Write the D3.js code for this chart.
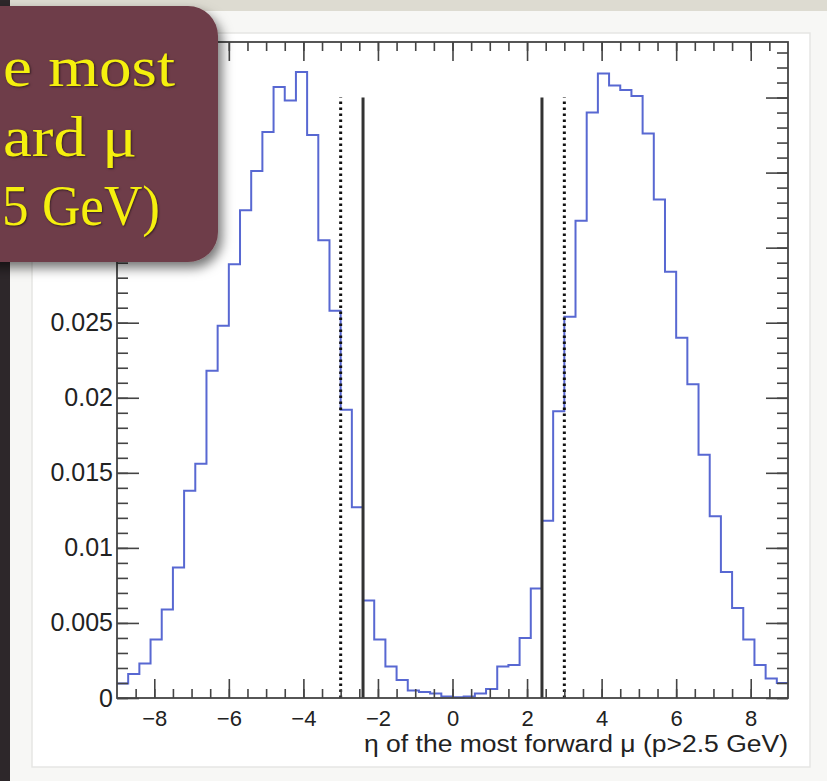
<!DOCTYPE html>
<html>
<head>
<meta charset="utf-8">
<script src="https://cdn.jsdelivr.net/npm/d3@7.9.0/dist/d3.min.js"></script>
<style>
  body { margin: 0; background: #f7f7f5; }
  svg { display: block; }
  .tick text { font-family: "Liberation Sans", Arial, Helvetica, sans-serif; fill: #222; }
</style>
</head>
<body>
<svg id="chart" width="827" height="781"></svg>
<script>
// histogram: 60 bins of width 0.3 between -9 and 9
const binLow = -9;
const binWidth = 0.3;
const binValues = [
  0.00096, 0.0016, 0.0023, 0.0039, 0.0059, 0.0087, 0.0138, 0.0156, 0.0218, 0.0248,
  0.0289, 0.0325, 0.0351, 0.0377, 0.0407, 0.0398, 0.0417, 0.0375, 0.0305, 0.0258,
  0.0192, 0.0127, 0.0065, 0.0039, 0.0021, 0.0012, 0.0005, 0.0004, 0.0003, 0.0001,
  0.00005, 0.0001, 0.0003, 0.0006, 0.0021, 0.0022, 0.0040, 0.0073, 0.0118, 0.0191,
  0.0254, 0.0318, 0.0390, 0.0416, 0.0408, 0.0405, 0.0401, 0.0376, 0.0332, 0.0284,
  0.0240, 0.0209, 0.0162, 0.0121, 0.0084, 0.0060, 0.0039, 0.0022, 0.0013, 0.0010
];

const xDomain = [-9, 9];
const yDomain = [0, 0.0437];
const xTickValues = [-8, -6, -4, -2, 0, 2, 4, 6, 8];
const yTickValues = [0, 0.005, 0.01, 0.015, 0.02, 0.025, 0.03, 0.035, 0.04];
// the top three labels sit under the callout box on the slide
const yTickLabels = ['0', '0.005', '0.01', '0.015', '0.02', '0.025', '', '', ''];

// acceptance cuts
const solidCuts = [-2.4, 2.4];
const dottedCuts = [-3, 3];
const cutHeight = 0.04;

const xTitle = 'η of the most forward μ (p>2.5 GeV)';
// only the right part of the callout is on the slide
const boxLines = ['e most', 'ard μ', '5 GeV)'];

const svg = d3.select('#chart');

// slide background
svg.append('rect').attr('x', 32).attr('y', 33).attr('width', 778).attr('height', 734)
  .attr('fill', '#fff').attr('stroke', '#e6e6e4').attr('stroke-width', 1.5);
svg.append('rect').attr('x', 0).attr('y', 0).attr('width', 827).attr('height', 11)
  .attr('fill', '#dddbd1');
svg.append('rect').attr('x', 0).attr('y', 0).attr('width', 10).attr('height', 781)
  .attr('fill', '#2d272a');

const x = d3.scaleLinear().domain(xDomain).range([117, 788]);
const y = d3.scaleLinear().domain(yDomain).range([698, 42]);

// frame
svg.append('rect')
  .attr('x', x(xDomain[0])).attr('y', y(yDomain[1]))
  .attr('width', x(xDomain[1]) - x(xDomain[0]))
  .attr('height', y(yDomain[0]) - y(yDomain[1]))
  .attr('fill', '#fff');

// histogram steps
const bins = binValues.map((v, i) => ({
  x0: +(binLow + i * binWidth).toFixed(2),
  x1: +(binLow + (i + 1) * binWidth).toFixed(2),
  v: v
}));
let pathD = '';
bins.forEach((b, i) => {
  pathD += (i === 0 ? 'M' : 'L') + x(b.x0) + ',' + y(b.v) + 'L' + x(b.x1) + ',' + y(b.v);
});
svg.append('path')
  .attr('d', pathD)
  .attr('fill', 'none')
  .attr('stroke', '#5868d2')
  .attr('stroke-width', 2);

// cut lines
svg.selectAll('.cut-solid')
  .data(solidCuts)
  .join('line')
  .attr('class', 'cut-solid')
  .attr('x1', d => x(d)).attr('x2', d => x(d))
  .attr('y1', y(0)).attr('y2', y(cutHeight))
  .attr('stroke', '#333').attr('stroke-width', 3);

svg.selectAll('.cut-dotted')
  .data(dottedCuts)
  .join('line')
  .attr('class', 'cut-dotted')
  .attr('x1', d => x(d)).attr('x2', d => x(d))
  .attr('y1', y(0)).attr('y2', y(cutHeight))
  .attr('stroke', '#111').attr('stroke-width', 3)
  .attr('stroke-dasharray', '2.5,3.5');

// axes, ticks pointing inward like ROOT
const xMinor = d3.range(-17, 18).map(d => d / 2);
const yMinor = d3.range(0, 44).map(d => d / 1000);

function styleAxis(g) {
  g.select('.domain').remove();
  g.selectAll('.tick line').attr('stroke', '#444').attr('stroke-width', 1.6);
}

svg.append('g').attr('transform', `translate(0,${y(0)})`)
  .call(d3.axisBottom(x).tickValues(xMinor).tickSize(-9).tickFormat(''))
  .call(styleAxis);
svg.append('g').attr('transform', `translate(0,${y(0)})`)
  .call(d3.axisBottom(x).tickValues(xTickValues).tickSize(-19).tickPadding(12))
  .call(styleAxis)
  .call(g => g.selectAll('.tick text').attr('font-size', 22));

svg.append('g').attr('transform', `translate(0,${y(yDomain[1])})`)
  .call(d3.axisTop(x).tickValues(xMinor).tickSize(-9).tickFormat(''))
  .call(styleAxis);
svg.append('g').attr('transform', `translate(0,${y(yDomain[1])})`)
  .call(d3.axisTop(x).tickValues(xTickValues).tickSize(-19).tickFormat(''))
  .call(styleAxis);

svg.append('g').attr('transform', `translate(${x(xDomain[0])},0)`)
  .call(d3.axisLeft(y).tickValues(yMinor).tickSize(-11).tickFormat(''))
  .call(styleAxis);
svg.append('g').attr('transform', `translate(${x(xDomain[0])},0)`)
  .call(d3.axisLeft(y).tickValues(yTickValues).tickSize(-22).tickPadding(4)
    .tickFormat((d, i) => yTickLabels[i]))
  .call(styleAxis)
  .call(g => g.selectAll('.tick text').attr('font-size', 25));

svg.append('g').attr('transform', `translate(${x(xDomain[1])},0)`)
  .call(d3.axisRight(y).tickValues(yMinor).tickSize(-11).tickFormat(''))
  .call(styleAxis);
svg.append('g').attr('transform', `translate(${x(xDomain[1])},0)`)
  .call(d3.axisRight(y).tickValues(yTickValues).tickSize(-22).tickFormat(''))
  .call(styleAxis);

svg.append('rect')
  .attr('x', x(xDomain[0])).attr('y', y(yDomain[1]))
  .attr('width', x(xDomain[1]) - x(xDomain[0]))
  .attr('height', y(yDomain[0]) - y(yDomain[1]))
  .attr('fill', 'none').attr('stroke', '#444').attr('stroke-width', 1.8);

// x title, right aligned to the frame
svg.append('text')
  .attr('x', x(xDomain[1])).attr('y', 752)
  .attr('text-anchor', 'end')
  .attr('font-family', '"Liberation Sans", Arial, Helvetica, sans-serif')
  .attr('font-size', 23)
  .attr('fill', '#222')
  .attr('textLength', 424)
  .attr('lengthAdjust', 'spacingAndGlyphs')
  .text(xTitle);

// slide callout box in the corner
const defs = svg.append('defs');
const shadow = defs.append('filter').attr('id', 'shadow')
  .attr('x', '-20%').attr('y', '-20%').attr('width', '150%').attr('height', '150%');
shadow.append('feDropShadow')
  .attr('dx', 4).attr('dy', 6).attr('stdDeviation', 6)
  .attr('flood-color', '#000').attr('flood-opacity', 0.55);

svg.append('rect')
  .attr('x', -40).attr('y', 6).attr('width', 258).attr('height', 256)
  .attr('rx', 30)
  .attr('fill', '#6e3e48')
  .attr('filter', 'url(#shadow)');

const lineStart = [3, 3, 2];
const lineWidth = [172, 134, 158];
const lineBase = [86, 156, 225];
svg.selectAll('.box-line')
  .data(boxLines)
  .join('text')
  .attr('class', 'box-line')
  .attr('x', (d, i) => lineStart[i])
  .attr('y', (d, i) => lineBase[i])
  .attr('textLength', (d, i) => lineWidth[i])
  .attr('lengthAdjust', 'spacingAndGlyphs')
  .attr('font-family', '"Liberation Serif", "Times New Roman", serif')
  .attr('font-size', 56)
  .attr('fill', '#f5f00e')
  .style('text-shadow', '1px 1px 2px rgba(0,0,0,0.5)')
  .text(d => d);
</script>
</body>
</html>
